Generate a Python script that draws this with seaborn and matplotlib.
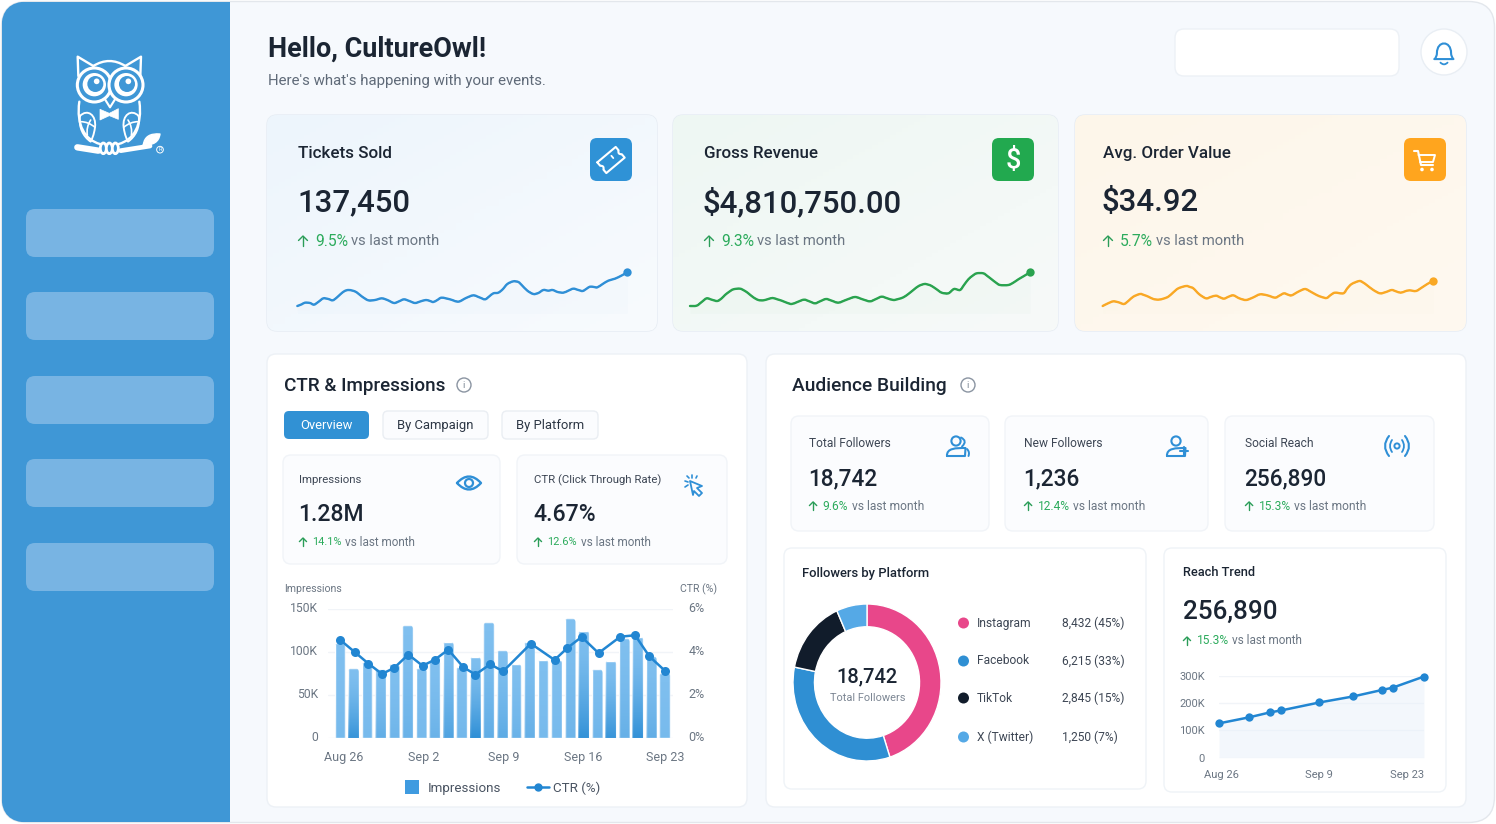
import numpy as np
import matplotlib
matplotlib.use('Agg')
import matplotlib.pyplot as plt
from matplotlib.patches import FancyBboxPatch, Circle, PathPatch, Rectangle
from matplotlib.path import Path
from matplotlib.lines import Line2D
from matplotlib.colors import LinearSegmentedColormap, to_rgb
from matplotlib.transforms import Affine2D, ScaledTranslation
import seaborn as sns

W, H = 1496, 824

# ---- data ----
impressions = [110, 81, 88, 80, 86, 131, 81, 91, 112, 83, 94.5, 134.5, 102, 86, 112, 91, 91, 139,
               125, 80, 90, 116, 118, 95, 76]
impressions = [v * 1000 for v in impressions]
bar_pos = list(range(25))
ctr_pos = [0, 1.1, 2.1, 3.1, 4, 5.05, 6.1, 7, 8, 9.1, 10, 11.1, 12.05, 14.1, 15.85, 16.8, 17.85,
           19.1, 20.7, 21.8, 22.85, 24]
ctr_vals = [4.57, 3.99, 3.46, 2.98, 3.26, 3.88, 3.36, 3.64, 4.11, 3.30, 2.95, 3.43, 3.10, 4.39,
            3.63, 4.19, 4.70, 3.95, 4.71, 4.78, 3.80, 3.13]
ctr_ticks = ['Aug 26', 'Sep 2', 'Sep 9', 'Sep 16', 'Sep 23']

reach_day = [0, 4.1, 7, 8.5, 13.7, 18.3, 22.3, 23.7, 28]
reach_vals = [125600, 147600, 166000, 173000, 202000, 224000, 248000, 256000, 297000]

platforms = ['Instagram', 'Facebook', 'TikTok', 'X (Twitter)']
platform_vals = [8432, 6215, 2845, 1250]
platform_labels = ['8,432 (45%)', '6,215 (33%)', '2,845 (15%)', '1,250 (7%)']

tix_x = [82, 95, 105, 120, 132, 146, 160, 175, 188, 200, 212, 224, 235, 248, 260, 275, 295, 315, 335, 352,
         372, 387, 402, 418, 435, 452, 468, 480, 490, 502, 515, 540, 565, 588, 610, 628, 645, 658, 670, 685,
         698, 712, 730, 745, 755, 772, 790, 805, 820, 835, 848, 863, 880, 895, 910, 925, 938, 950, 960, 972,
         982, 998, 1015, 1035, 1054, 1072]
tix_y = [12, 17, 22, 21, 16, 25, 35, 33, 29, 37, 48, 57, 60, 58, 53, 41, 29, 30, 35, 30,
         21, 26, 32, 27, 21, 26, 30, 27, 24, 30, 37, 32, 25, 36, 44, 38, 32, 41, 50, 52,
         62, 78, 86, 84, 75, 58, 48, 51, 60, 58, 60, 54, 52, 58, 64, 60, 57, 64, 70, 69,
         68, 78, 88, 94, 103, 113]
rev_x = [30, 50, 65, 80, 95, 112, 125, 135, 148, 160, 180, 195, 205, 220, 235, 250, 265, 278, 292, 305,
         320, 335, 352, 372, 388, 405, 420, 438, 455, 475, 500, 525, 548, 570, 588, 605, 622, 640, 655, 670,
         685, 700, 716, 733, 745, 755, 770, 785, 805, 822, 840, 852, 865, 878, 890, 910, 922, 935, 948, 960,
         985, 1000, 1015, 1032, 1050]
rev_y = [12, 13, 24, 35, 31, 27, 35, 45, 55, 62, 64, 57, 50, 38, 30, 29, 33, 36, 32, 28,
         22, 18, 24, 31, 26, 20, 26, 33, 28, 22, 31, 39, 32, 26, 33, 40, 35, 30, 33, 38,
         48, 60, 72, 78, 76, 72, 62, 52, 50, 63, 60, 75, 92, 103, 110, 110, 102, 92, 82, 75,
         75, 82, 92, 102, 113]
aov_x = [68, 84, 100, 116, 132, 146, 160, 180, 192, 205, 220, 235, 250, 265, 280, 295, 318, 330, 340, 358,
         378, 392, 408, 420, 432, 446, 460, 478, 498, 518, 540, 562, 585, 598, 612, 624, 635, 655, 675, 692,
         710, 725, 740, 752, 765, 790, 802, 815, 838, 850, 860, 880, 900, 918, 935, 948, 962, 975, 988, 1008,
         1025, 1042, 1060]
aov_y = [12, 20, 26, 23, 18, 28, 40, 48, 45, 40, 33, 31, 34, 40, 53, 65, 72, 69, 65, 47,
         35, 39, 43, 38, 34, 40, 44, 35, 30, 37, 47, 44, 37, 43, 50, 46, 44, 55, 63, 55,
         45, 39, 36, 45, 52, 50, 65, 78, 87, 82, 75, 60, 50, 54, 60, 56, 52, 56, 59, 57,
         67, 78, 88]

# ---- colours ----
BLUE = '#2f8fd6'
GREEN = '#2cab5c'
ORANGE = '#ffa51e'
INK = '#1b2533'
GREY = '#6b7683'
LINE = '#eaeff5'

sns.set_theme(style='white')
plt.rcParams['font.family'] = ['Roboto', 'DejaVu Sans']

fig = plt.figure(figsize=(W / 100, H / 100), dpi=100, facecolor='white')
px = fig.add_axes([0, 0, 1, 1])
px.set_xlim(0, W)
px.set_ylim(H, 0)
px.axis('off')


def inset(x0, y0, x1, y1):
    a = fig.add_axes([x0 / W, 1 - y1 / H, (x1 - x0) / W, (y1 - y0) / H])
    a.patch.set_alpha(0)
    return a


def card(x0, y0, x1, y1, r=8, fc='white', ec=LINE, lw=1, z=1):
    p = FancyBboxPatch((x0, y0), x1 - x0, y1 - y0, boxstyle=f'round,pad=0,rounding_size={r}',
                       fc=fc, ec=ec, lw=lw, zorder=z)
    px.add_patch(p)
    return p


def grad_card(x0, y0, x1, y1, c0, c1, r=10):
    p = card(x0, y0, x1, y1, r=r, fc=c1, ec='#e6ecf3')
    cm = LinearSegmentedColormap.from_list('c', [c0, c1])
    g = np.add.outer(np.linspace(0, 1, 64), np.linspace(0, 1, 64)) / 2
    im = px.imshow(g, cmap=cm, extent=(x0, x1, y1, y0), aspect='auto', zorder=1.1)
    im.set_clip_path(p)


def T(x, y, s, size, color=INK, weight='normal', ha='left', va='center'):
    return px.text(x, y, s, fontsize=size * 0.72, color=color, fontweight=weight, ha=ha, va=va, zorder=5)


def ln(xs, ys, color=BLUE, lw=1.6, tr=None):
    px.plot(xs, ys, color=color, lw=lw, solid_capstyle='round', solid_joinstyle='round', zorder=6,
            transform=tr if tr is not None else px.transData)


def dot(x, y, r, fc=BLUE, ec='none', lw=1.4, tr=None, z=6):
    c = Circle((x, y), r, fc=fc, ec=ec, lw=lw, zorder=z)
    if tr is not None:
        c.set_transform(tr)
    px.add_patch(c)


def curve(pts, codes, fc='none', ec='white', lw=1.6, tr=None):
    p = PathPatch(Path(pts, codes), fc=fc, ec=ec, lw=lw, zorder=6, capstyle='round', joinstyle='round')
    if tr is not None:
        p.set_transform(tr)
    px.add_patch(p)


def trend(x, y, pct, size=12, pct_size=None, gap=3.5):
    # arrow + green percentage + grey remainder
    s = size * 0.34
    ln([x + s, x + s], [y - s * 0.9, y + s], '#2a9d58', 1.0)
    ln([x + 0.1 * s, x + s, x + 1.9 * s], [y - 0.1 * s, y - s, y - 0.1 * s], '#2a9d58', 1.0)
    t = T(x + size * 1.15, y, pct, pct_size or size, GREEN)
    bb = t.get_window_extent(fig.canvas.get_renderer())
    T(bb.x1 + gap, y, 'vs last month', size, GREY)


def smooth_over(a, col, lw):
    # round the read points off the way the original spline does
    line = a.lines[0]
    xy = line.get_xydata()
    line.set_linewidth(lw * 0.5)
    verts, codes = [tuple(xy[0])], [Path.MOVETO]
    for i in range(len(xy) - 1):
        p0 = xy[max(i - 1, 0)]
        p1, p2 = xy[i], xy[i + 1]
        p3 = xy[min(i + 2, len(xy) - 1)]
        verts += [tuple(p1 + (p2 - p0) / 6), tuple(p2 - (p3 - p1) / 6), tuple(p2)]
        codes += [Path.CURVE4] * 3
    a.add_patch(PathPatch(Path(verts, codes), fc='none', ec=col, lw=lw, zorder=3, capstyle='round'))


def lift_ylabels(a, pts):
    for lab in a.get_yticklabels():
        lab.set_transform(lab.get_transform() + ScaledTranslation(0, pts / 72, fig.dpi_scale_trans))


# ---- page + sidebar ----
page = card(1.5, 1.5, W - 1.5, H - 1.5, r=26, fc='#f6f9fd', ec='#e3e7ec', lw=1, z=0)
side = Rectangle((2, 2), 228, H - 4, fc='#3f97d6', ec='none', zorder=0.5)
px.add_patch(side)
side.set_clip_path(page)
for y0 in [209, 292, 376, 459, 543]:
    card(26, y0, 214, y0 + 48, r=9, fc='#78b4e3', ec='none')

# owl logo, drawn in the coordinates of a 3x crop
ot = Affine2D().scale(1 / 3).translate(50, 40) + px.transData
olw = 1.7
mx = 356
for m in [False, True]:
    f = (lambda v: mx - v) if m else (lambda v: v)
    curve([(f(85), 108), (f(83), 50), (f(130), 78)], [Path.MOVETO, Path.LINETO, Path.LINETO], lw=olw, tr=ot)
    curve([(f(88), 185), (f(78), 255), (f(105), 300), (f(150), 312)],
          [Path.MOVETO, Path.CURVE4, Path.CURVE4, Path.CURVE4], lw=olw, tr=ot)
    curve([(f(90), 228), (f(112), 205), (f(140), 225), (f(135), 262), (f(132), 285), (f(125), 300), (f(122), 305),
           (f(100), 290), (f(85), 262), (f(90), 228)],
          [Path.MOVETO, Path.CURVE4, Path.CURVE4, Path.CURVE4, Path.CURVE4, Path.CURVE4, Path.CURVE4,
           Path.CURVE4, Path.CURVE4, Path.CURVE4], lw=olw * 0.8, tr=ot)
    curve([(f(92), 245), (f(115), 245), (f(135), 262)], [Path.MOVETO, Path.CURVE3, Path.CURVE3], lw=olw * 0.7, tr=ot)
    curve([(f(112), 285), (f(108), 262), (f(122), 240)], [Path.MOVETO, Path.CURVE3, Path.CURVE3], lw=olw * 0.7, tr=ot)
curve([(130, 78), (178, 48), (226, 78)], [Path.MOVETO, Path.CURVE3, Path.CURVE3], lw=olw, tr=ot)
for cx in [133, 228]:
    dot(cx, 135, 51, fc='#3f97d6', ec='white', lw=2.2, tr=ot)
    dot(cx, 134, 35, fc='white', tr=ot)
    dot(cx + 3, 132, 24, fc='#3f97d6', tr=ot)
    dot(cx + 7, 124, 8.5, fc='white', tr=ot)
curve([(165, 178), (180, 202), (195, 178)], [Path.MOVETO, Path.LINETO, Path.LINETO], lw=olw * 0.9, tr=ot)
curve([(150, 208), (178, 220), (205, 206), (205, 238), (178, 227), (150, 240), (150, 208)],
      [Path.MOVETO] + [Path.LINETO] * 5 + [Path.CLOSEPOLY], fc='white', lw=0.5, tr=ot)
ln([82, 145], [322, 332], 'white', 4.6, tr=ot)
ln([212, 300], [332, 318], 'white', 3.4, tr=ot)
for cx in [160, 178, 196]:
    p = PathPatch(Path.unit_circle().transformed(Affine2D().scale(9, 16).translate(cx, 325)), fc='#3f97d6', ec='white',
                  lw=2, zorder=7)
    p.set_transform(ot)
    px.add_patch(p)
curve([(280, 314), (285, 278), (330, 282), (325, 318), (280, 314)],
      [Path.MOVETO, Path.CURVE3, Path.CURVE3, Path.CURVE3, Path.CURVE3], fc='white', lw=1, tr=ot)
px.text(330, 329, 'R', fontsize=4, color='white', ha='center', va='center', zorder=7, transform=ot)
dot(330, 329, 10, fc='none', ec='white', lw=0.7, tr=ot)

# ---- header ----
T(268, 49, 'Hello, CultureOwl!', 27, INK, 'bold')
T(268, 80.5, "Here's what's happening with your events.", 15, '#5f6a78')
card(1175, 29, 1399, 76, r=9, ec='#edf1f6')
dot(1444, 52, 23, fc='white', ec='#e9eef4', lw=1, z=2)
bt = Affine2D().scale(1.18).translate(1444, 52) + px.transData
curve([(-8, 6), (-6, 4), (-6, 1), (-6, -10), (6, -10), (6, 1), (6, 4), (8, 6), (-8, 6)],
      [Path.MOVETO, Path.CURVE3, Path.CURVE3, Path.CURVE4, Path.CURVE4, Path.CURVE4, Path.CURVE3, Path.CURVE3, Path.LINETO],
      ec=BLUE, lw=1.5, tr=bt)
curve([(-3, 9), (0, 12), (3, 9)], [Path.MOVETO, Path.CURVE3, Path.CURVE3], ec=BLUE, lw=1.3, tr=bt)

# ---- kpi cards ----
grad_card(267, 115, 657, 331, '#edf5fc', '#f8fbfe')
grad_card(673, 115, 1058, 331, '#eef7f3', '#f7faf9')
grad_card(1075, 115, 1466, 331, '#fdf6ea', '#fff9f0')
for x, title, value, pct in [(298, 'Tickets Sold', '137,450', '9.5%'),
                             (704, 'Gross Revenue', '$4,810,750.00', '9.3%'),
                             (1103, 'Avg. Order Value', '$34.92', '5.7%')]:
    T(x, 153.5, title, 17, INK, 'medium')
    T(x - 1, 202.5, value, 31.2, INK, 'medium')
    trend(x, 241, pct, 14.7, 15.6)

for x0, c in [(590, '#2f92d6'), (992, '#22a94f'), (1404, ORANGE)]:
    card(x0, 138, x0 + 42, 181, r=7, fc=c, ec='none', z=3)
# ticket icon
tt = Affine2D().rotate_deg(-40).translate(611, 160) + px.transData
curve([(-12, -7), (12, -7), (12, -2.5), (8.5, 0), (12, 2.5), (12, 7), (-12, 7), (-12, 2.5), (-8.5, 0), (-12, -2.5), (-12, -7)],
      [Path.MOVETO, Path.LINETO, Path.LINETO, Path.CURVE3, Path.CURVE3, Path.LINETO, Path.LINETO, Path.LINETO, Path.CURVE3,
       Path.CURVE3, Path.LINETO], lw=1.5, tr=tt)
ln([3, 3], [-3, 0], 'white', 1.3, tr=tt)
T(1013, 160, '$', 27, 'white', 'medium', ha='center')
# cart icon
ct = Affine2D().translate(1425, 160) + px.transData
ln([-11, -7, -4, 8], [-9, -9, 5, 5], 'white', 1.5, tr=ct)
ln([-6.5, 10, 8, -5], [-5, -5, 2, 2], 'white', 1.4, tr=ct)
dot(1425 - 3, 160 + 9.5, 1.8, 'white')
dot(1425 + 7, 160 + 9.5, 1.8, 'white')

# sparklines
for (x0, x1, xs, ys, col, fill) in [(270, 670, tix_x, tix_y, '#2f8fd6', 0.012),
                                    (680, 1080, rev_x, rev_y, '#2aa34f', 0.02),
                                    (1080, 1470, aov_x, aov_y, '#f9a825', 0.008)]:
    sp = inset(x0, 230, x1, 330)
    sp.set_zorder(4)
    sp.fill_between(xs, ys, -10, color=col, alpha=fill, lw=0)
    sns.lineplot(x=xs, y=ys, ax=sp, color=col, lw=1.7, errorbar=None)
    smooth_over(sp, col, 1.7)
    sns.scatterplot(x=xs[-1:], y=ys[-1:], ax=sp, color=col, s=36, linewidth=0, zorder=5, clip_on=False)
    sp.set_xlim(0, (x1 - x0) * 3)
    sp.set_ylim(-60, 240)
    sp.axis('off')

# ---- CTR panel ----
card(267, 354, 747, 807, r=9, ec='#edf1f6')
T(284, 385.5, 'CTR & Impressions', 18.9, INK, 'medium')
dot(464, 385, 7, fc='none', ec='#8a94a1', lw=1)
T(464, 385.5, 'i', 9.5, '#7a8592', ha='center')
card(284, 411, 369, 439, r=5, fc='#3191d4', ec='none')
T(326.5, 425, 'Overview', 13, 'white', ha='center')
card(383, 411, 488, 439, r=5, fc='#fbfcfe', ec='#eaeef3')
T(435.5, 425, 'By Campaign', 13, '#2c3644', ha='center')
card(502, 411, 598, 439, r=5, fc='#fbfcfe', ec='#eaeef3')
T(550, 425, 'By Platform', 13, '#2c3644', ha='center')

card(283, 455, 500, 564, r=8, fc='#fbfcfe', ec='#f1f4f8')
card(517, 455, 727, 564, r=8, fc='#fbfcfe', ec='#f1f4f8')
for x, lab, val, pct in [(299, 'Impressions', '1.28M', '14.1%'), (534, 'CTR (Click Through Rate)', '4.67%', '12.6%')]:
    T(x, 480, lab, 11.4, '#3d4654')
    T(x - 1, 514.5, val, 23, INK, 'medium')
    trend(x, 542, pct, 11.7, 11)

# eye icon
et = Affine2D().translate(469, 483) + px.transData
curve([(-12, 0), (0, -13), (12, 0), (0, 13), (-12, 0)], [Path.MOVETO, Path.CURVE3, Path.CURVE3, Path.CURVE3, Path.CURVE3],
      ec=BLUE, lw=1.7, tr=et)
dot(469, 483, 4, fc='none', ec=BLUE, lw=1.6)
# cursor icon
kt = Affine2D().translate(695, 487) + px.transData
curve([(-5, -6), (7, -1), (2, 1), (7, 6), (4, 9), (-1, 4), (-2, 8), (-5, -6)],
      [Path.MOVETO] + [Path.LINETO] * 6 + [Path.CLOSEPOLY], ec=BLUE, lw=1.3, tr=kt)
for a, b, c, d in [(-10, -6, -7, -5), (-8, -11, -6, -9), (-3, -12, -3, -9), (2, -11, 1, -9), (-10, 0, -7, -2)]:
    ln([a, c], [b, d], BLUE, 1.2, tr=kt)

# bar + line chart
ax = inset(328, 609, 673, 738)
ax.set_zorder(4)
BAR = '#7fbfef'
sns.barplot(x=bar_pos, y=impressions, ax=ax, native_scale=True, width=0.8, color=BAR, saturation=1, errorbar=None, zorder=2)
ax.yaxis.grid(True, color='#f1f4f8', lw=1, zorder=0)
ax.set_axisbelow(True)
# rounded tops and darker bottoms on the bars that seaborn drew
shade = [.1, .85, .1, .35, .2, .25, .1, .25, .55, .15, .95, .35, .4, .25, .3, .1, .1, .2, .9, .2, .85, .3, .9, .35, .1]
dark = np.array(to_rgb('#1c84d0'))
for rect, s in zip(ax.patches, shade):
    bx, bw, bh = rect.get_x(), rect.get_width(), rect.get_height()
    rx, ry = 0.3, 4500
    clip = Path([(bx, 0), (bx, bh - ry), (bx, bh), (bx + rx, bh), (bx + bw - rx, bh), (bx + bw, bh),
                 (bx + bw, bh - ry), (bx + bw, 0), (bx, 0)],
                [Path.MOVETO, Path.LINETO, Path.CURVE3, Path.CURVE3, Path.LINETO, Path.CURVE3, Path.CURVE3,
                 Path.LINETO, Path.CLOSEPOLY])
    rect.set_clip_path(clip, ax.transData)
    rgba = np.zeros((48, 1, 4))
    rgba[..., :3] = dark
    rgba[:, 0, 3] = np.linspace(0, 1, 48) ** 1.6 * s * 0.85
    im = ax.imshow(rgba, extent=(bx, bx + bw, 0, bh), aspect='auto', zorder=2.5)
    im.set_clip_path(clip, ax.transData)
ax.set_xlim(-0.886, 24.6)
ax.set_ylim(0, 150000)
ax.set_yticks([0, 50000, 100000, 150000], ['0', '50K', '100K', '150K'])
ax.set_xticks([0.3, 6.2, 12.1, 18, 24], ctr_ticks)
ax.set_xlabel('')
ax.set_ylabel('')
ax.tick_params(axis='y', length=0, pad=7, labelsize=8.7, labelcolor=GREY)
ax.tick_params(axis='x', length=0, pad=9, labelsize=9, labelcolor=GREY)
sns.despine(ax=ax, left=True, bottom=True)
lift_ylabels(ax, 1.2)

ax2 = ax.twinx()
ax2.set_zorder(5)
ax2.patch.set_alpha(0)
sns.lineplot(x=ctr_pos, y=ctr_vals, ax=ax2, color='#2286d2', lw=1.8, marker='o', markersize=6.5, markeredgewidth=0,
             errorbar=None, clip_on=False)
ax2.set_ylim(0, 6)
ax2.set_yticks([0, 2, 4, 6], ['0%', '2%', '4%', '6%'])
ax2.set_ylabel('')
ax2.tick_params(axis='y', length=0, pad=11, labelsize=9, labelcolor=GREY)
ax2.grid(False)
sns.despine(ax=ax2, left=True, bottom=True, right=True)
lift_ylabels(ax2, 1.2)
T(284, 589, 'Impressions', 10.5, GREY)
T(717, 589, 'CTR (%)', 10.5, GREY, ha='right')

# legend under the chart
leg = px.legend(handles=[Line2D([], [], color='#3f9be0', ls='none', marker='s', markersize=10, markeredgewidth=0, label='Impressions'),
                         Line2D([], [], color='#2286d2', lw=1.8, marker='o', markersize=5, label='CTR (%)')],
                loc='center', bbox_to_anchor=(501 / W, 1 - 788 / H), bbox_transform=fig.transFigure, ncol=2,
                frameon=False, fontsize=9.6, labelcolor='#4a5462', columnspacing=2.0, handletextpad=0.35,
                handlelength=1.6)
leg.set_zorder(6)

# ---- audience panel ----
card(766, 354, 1466, 807, r=9, ec='#edf1f6')
T(792, 385.5, 'Audience Building', 19.2, INK, 'medium')
dot(968, 385, 7, fc='none', ec='#8a94a1', lw=1)
T(968, 385.5, 'i', 9.5, '#7a8592', ha='center')

for x0, x1, tx, lab, val, pct in [(791, 989, 809, 'Total Followers', '18,742', '9.6%'),
                                  (1005, 1208, 1024, 'New Followers', '1,236', '12.4%'),
                                  (1225, 1434, 1245, 'Social Reach', '256,890', '15.3%')]:
    card(x0, 416, x1, 531, r=8, fc='#fbfcfe', ec='#f1f4f8')
    T(tx, 443, lab, 12, '#3d4654')
    T(tx - 1, 478.5, val, 22.6, INK, 'medium')
    trend(tx, 506, pct, 12)


def person(cx, cy):
    dot(cx, cy - 6, 4.6, fc='none', ec=BLUE, lw=1.5)
    curve([(cx - 9, cy + 9), (cx - 9.5, cy + 1), (cx, cy + 1), (cx + 9.5, cy + 1), (cx + 9, cy + 9), (cx - 9, cy + 9)],
          [Path.MOVETO, Path.CURVE4, Path.CURVE4, Path.CURVE4, Path.LINETO, Path.LINETO], ec=BLUE, lw=1.5)


person(956, 447)
curve([(961, 437.5), (968, 441), (962, 446.5)], [Path.MOVETO, Path.CURVE3, Path.CURVE3], ec=BLUE, lw=1.4)
curve([(967, 449), (970, 452), (968.5, 456)], [Path.MOVETO, Path.CURVE3, Path.CURVE3], ec=BLUE, lw=1.4)
person(1176, 447)
ln([1180, 1188], [451, 451], BLUE, 1.5)
ln([1184, 1184], [447, 455], BLUE, 1.5)
dot(1397, 446, 2.6, fc='none', ec=BLUE, lw=1.4)
for sgn in [-1, 1]:
    curve([(1397 + sgn * 5, 440), (1397 + sgn * 9, 446), (1397 + sgn * 5, 452)], [Path.MOVETO, Path.CURVE3, Path.CURVE3],
          ec=BLUE, lw=1.3)
    curve([(1397 + sgn * 8, 436), (1397 + sgn * 16, 446), (1397 + sgn * 8, 456)], [Path.MOVETO, Path.CURVE3, Path.CURVE3],
          ec=BLUE, lw=1.5)

card(784, 548, 1146, 789, r=8, ec='#eff3f7')
T(802, 573, 'Followers by Platform', 13, INK, 'medium')
donut = inset(793, 604, 941, 761)
donut.set_zorder(4)
pal = ['#e8478a', '#2f8fd3', '#111c2b', '#55a9e6']
donut.pie(platform_vals, colors=pal, startangle=90, counterclock=False, radius=1,
          wedgeprops=dict(width=0.29, edgecolor='white', linewidth=1))
donut.set_aspect('auto')
donut.set_xlim(-1, 1)
donut.set_ylim(-1, 1)
T(867.5, 677, '18,742', 20, INK, 'medium', ha='center')
T(867.5, 698, 'Total Followers', 11, '#7d8794', ha='center')
for y, name, lab, c in zip([623, 661, 698, 737], platforms, platform_labels, pal):
    dot(963.5, y, 5.5, fc=c)
    T(977, y, name, 12, '#3d4654')
    T(1062, y, lab, 12, '#3d4654')

card(1164, 548, 1446, 792, r=8, ec='#eff3f7')
T(1183, 573, 'Reach Trend', 12.7, INK, 'medium')
T(1183, 611.5, '256,890', 26, INK, 'medium')
trend(1183, 641, '15.3%', 11.7, 12)
rt = inset(1219, 675.7, 1424, 757.7)
rt.set_zorder(4)
rt.fill_between(reach_day, reach_vals, 0, color='#e9f1fa', alpha=0.5, lw=0)
sns.lineplot(x=reach_day, y=reach_vals, ax=rt, color='#2286d2', lw=1.8, marker='o', markersize=6, markeredgewidth=0,
             errorbar=None, clip_on=False)
rt.set_xlim(0, 28)
rt.set_ylim(0, 300000)
rt.yaxis.grid(True, color='#f1f4f8', lw=1)
rt.set_axisbelow(True)
rt.set_yticks([0, 100000, 200000, 300000], ['0', '100K', '200K', '300K'])
rt.set_xticks([0.4, 13.6, 28], ['Aug 26', 'Sep 9', 'Sep 23'])
rt.get_xticklabels()[2].set_ha('right')
rt.tick_params(axis='y', length=0, pad=10, labelsize=8, labelcolor=GREY)
rt.tick_params(axis='x', length=0, pad=9, labelsize=8, labelcolor=GREY)
sns.despine(ax=rt, left=True, bottom=True)

px.set_xlim(0, W)
px.set_ylim(H, 0)
fig.savefig('out.png', dpi=100)
